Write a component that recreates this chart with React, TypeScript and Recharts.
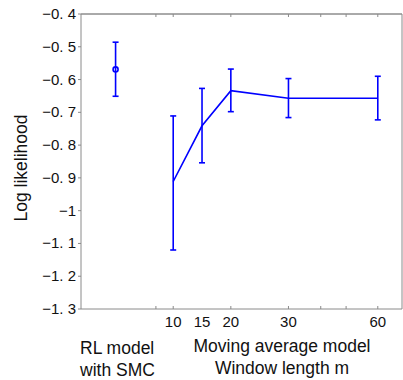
import React from 'react';
import { ComposedChart, Line, ErrorBar, XAxis, YAxis } from 'recharts';

// window lengths shown on the axis, and the slot the original figure used for each
const windowLabels = ['10', '15', '20', '30', '60'];
const windowSlots = [10, 15, 20, 30, 45.5];
const maMean = [-0.911, -0.741, -0.634, -0.657, -0.657];
const maLow = [-1.12, -0.854, -0.698, -0.716, -0.723];
const maHigh = [-0.711, -0.627, -0.568, -0.597, -0.59];

// RL model with SMC, single point
const rlSlot = 0;
const rlMean = -0.569;
const rlLow = -0.651;
const rlHigh = -0.486;

const yTicks = [-1.3, -1.2, -1.1, -1, -0.9, -0.8, -0.7, -0.6, -0.5, -0.4];
const xMarks = [7, 10, 20, 30, 35.6, 40, 45.5];

const maData = windowSlots.map((s, i) => ({
  slot: s,
  mean: maMean[i],
  err: [maMean[i] - maLow[i], maHigh[i] - maMean[i]],
}));
const rlData = [{ slot: rlSlot, mean: rlMean, err: [rlMean - rlLow, rlHigh - rlMean] }];

const xTicks = Array.from(new Set([...xMarks, ...windowSlots])).sort((a, b) => a - b);

const FONT = '"Liberation Sans", Arial, sans-serif';
const AXIS = '#8a8a8a';
const BLUE = '#0000ff';

const fmtY = (v: number) => {
  if (Number.isInteger(v)) return '\u2212' + Math.abs(v);
  return '\u2212' + Math.abs(v).toFixed(1).replace('.', '. ');
};

const BottomTick = (props: any) => {
  const { x, y, payload } = props;
  const v = payload.value;
  const idx = windowSlots.indexOf(v);
  return (
    <g>
      {xMarks.includes(v) && <line x1={x} x2={x} y1={y} y2={y - 3} stroke={AXIS} />}
      {idx >= 0 && (
        <text x={x} y={y + 18} textAnchor="middle" fontSize={15} fontFamily={FONT} fill="#111">
          {windowLabels[idx]}
        </text>
      )}
    </g>
  );
};

const TopTick = (props: any) => {
  const { x, y, payload } = props;
  if (!xMarks.includes(payload.value)) return <g />;
  return <line x1={x} x2={x} y1={y} y2={y + 3} stroke={AXIS} />;
};

const LeftTick = (props: any) => {
  const { x, y, payload } = props;
  return (
    <g>
      <line x1={x} x2={x - 3} y1={y} y2={y} stroke={AXIS} />
      <text x={x - 5} y={y + 5} textAnchor="end" fontSize={15} fontFamily={FONT} fill="#111">
        {fmtY(payload.value)}
      </text>
    </g>
  );
};

const RightTick = (props: any) => {
  const { x, y } = props;
  return <line x1={x} x2={x - 3} y1={y} y2={y} stroke={AXIS} />;
};

export default function App() {
  return (
    <div style={{ position: 'absolute', left: 0, top: 0, width: 403, height: 380, background: '#fff' }}>
      <ComposedChart width={403} height={380} margin={{ top: 13, right: 0, bottom: 70, left: 0 }}>
        <XAxis
          xAxisId="b"
          type="number"
          dataKey="slot"
          domain={[-6, 49.7]}
          ticks={xTicks}
          interval={0}
          allowDataOverflow
          height={1}
          tickSize={0}
          tickMargin={0}
          tickLine={false}
          axisLine={{ stroke: AXIS }}
          tick={<BottomTick />}
        />
        <XAxis
          xAxisId="t"
          orientation="top"
          type="number"
          dataKey="slot"
          domain={[-6, 49.7]}
          ticks={xMarks}
          interval={0}
          allowDataOverflow
          height={1}
          tickSize={0}
          tickMargin={0}
          tickLine={false}
          axisLine={{ stroke: '#555' }}
          tick={<TopTick />}
        />
        <YAxis
          yAxisId="l"
          type="number"
          domain={[-1.3, -0.4]}
          ticks={yTicks}
          interval={0}
          width={81}
          tickSize={0}
          tickMargin={0}
          tickLine={false}
          axisLine={{ stroke: AXIS }}
          tick={<LeftTick />}
        />
        <YAxis
          yAxisId="r"
          orientation="right"
          type="number"
          domain={[-1.3, -0.4]}
          ticks={yTicks}
          interval={0}
          width={1}
          tickSize={0}
          tickMargin={0}
          tickLine={false}
          axisLine={{ stroke: AXIS }}
          tick={<RightTick />}
        />
        <Line
          xAxisId="b"
          yAxisId="l"
          data={maData}
          dataKey="mean"
          stroke={BLUE}
          strokeWidth={1.6}
          dot={false}
          isAnimationActive={false}
        >
          <ErrorBar dataKey="err" width={3} stroke={BLUE} strokeWidth={1.6} direction="y" isAnimationActive={false} />
        </Line>
        <Line
          xAxisId="b"
          yAxisId="l"
          data={rlData}
          dataKey="mean"
          stroke={BLUE}
          strokeWidth={1.6}
          dot={{ r: 2.5, stroke: BLUE, strokeWidth: 1.6, fill: 'none' }}
          isAnimationActive={false}
        >
          <ErrorBar dataKey="err" width={3} stroke={BLUE} strokeWidth={1.6} direction="y" isAnimationActive={false} />
        </Line>
      </ComposedChart>
      <svg width={403} height={380} style={{ position: 'absolute', left: 0, top: 0, pointerEvents: 'none' }}>
        <g fontFamily={FONT} fontSize={17.5} fill="#111">
          <text transform="translate(27,168) rotate(-90)" textAnchor="middle">Log likelihood</text>
          <text x={80} y={354}>RL model</text>
          <text x={80} y={376}>with SMC</text>
          <text x={282} y={352} textAnchor="middle">Moving average model</text>
          <text x={282} y={374} textAnchor="middle">Window length m</text>
        </g>
      </svg>
    </div>
  );
}
